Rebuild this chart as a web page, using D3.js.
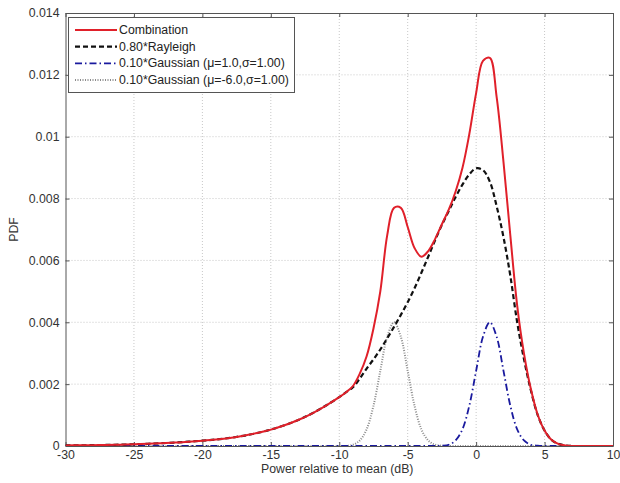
<!DOCTYPE html>
<html><head><meta charset="utf-8">
<script src="https://cdn.jsdelivr.net/npm/d3@7"></script>
<style>
html,body{margin:0;padding:0;background:#fff;}
svg{display:block;font-family:"Liberation Sans",Arial,sans-serif;}
</style></head>
<body><svg id="c" width="620" height="483"></svg>
<script>
// x positions (dB)
const xValues = [-30,-29,-28,-27,-26,-25,-24,-23,-22,-21,-20,-19,-18,-17,-16,-15,-14,-13,-12,-11,
  -10,-9.5,-9,-8.5,-8,-7.5,-7,-6.5,-6,-5.5,-5,-4.5,-4,-3.5,-3,-2.5,-2,-1.5,-1,-0.5,
  0,0.5,1,1.5,2,2.5,3,3.5,4,4.5,5,5.5,6,6.5,7,8,9,10];
const rayleigh = [0.000018,0.000022,0.000028,0.000035,0.000044,0.000055,0.00007,0.00009,0.00011,0.00014,
  0.000172,0.00021,0.00026,0.00033,0.00042,0.00053,0.00067,0.00084,0.00105,0.0013,
  0.00158,0.00174,0.0019,0.00218,0.0025,0.0028,0.00312,0.00348,0.00385,0.00424,0.00465,0.0051,0.0056,0.00612,0.00665,0.00715,0.0076,0.00805,0.00845,0.00878,
  0.00898,0.00892,0.00855,0.00775,0.00675,0.0055,0.004,0.0028,0.0018,0.001,0.0005,0.0002,0.00007,0.00002,0,0,0,0];
const combination = [0.000018,0.000022,0.000028,0.000035,0.000044,0.000055,0.00007,0.00009,0.00011,0.00014,
  0.000172,0.00021,0.00026,0.00033,0.00042,0.00053,0.00067,0.00084,0.00105,0.0013,
  0.00158,0.00174,0.00194,0.00234,0.0029,0.0038,0.0050,0.0068,0.0077,0.0077,0.00708,0.0064,0.00612,0.0063,0.00669,0.00717,0.00764,0.00823,0.00899,0.01008,
  0.01141,0.01245,0.01255,0.01128,0.00918,0.0068,0.00454,0.00298,0.00184,0.00101,0.0005,0.0002,0.00007,0.00002,0,0,0,0];
const gaussMu1 = [0,0,0,0,0,0,0,0,0,0,0,0,0,0,0,0,0,0,0,0,
  0,0,0,0,0,0,0,0,0,0,0,0,0,0,0,0.00001,0.00004,0.00018,0.00054,0.0013,
  0.00243,0.00353,0.004,0.00353,0.00243,0.0013,0.00054,0.00018,0.00004,0.00001,0,0,0,0,0,0,0,0];
const gaussMu6 = [0,0,0,0,0,0,0,0,0,0,0,0,0,0,0,0,0,0,0,0,
  0,0,0.00004,0.00018,0.00054,0.0013,0.00243,0.00353,0.004,0.00353,0.00243,0.0013,0.00054,0.00018,0.00004,0.00001,0,0,0,0,
  0,0,0,0,0,0,0,0,0,0,0,0,0,0,0,0,0,0];
const xTicks = [-30,-25,-20,-15,-10,-5,0,5,10];
const xTickLabels = ["-30","-25","-20","-15","-10","-5","0","5","10"];
const yTicks = [0,0.002,0.004,0.006,0.008,0.01,0.012,0.014];
const yTickLabels = ["0","0.002","0.004","0.006","0.008","0.01","0.012","0.014"];
const legendLabels = ["Combination","0.80*Rayleigh","0.10*Gaussian (\u03bc=1.0,\u03c3=1.00)","0.10*Gaussian (\u03bc=-6.0,\u03c3=1.00)"];

const svg = d3.select("#c");
const L = 65.5, R = 613, T = 13, B = 446;
const FS = "12.3px";
const x = d3.scaleLinear().domain([-30,10]).range([L,R]);
const y = d3.scaleLinear().domain([0,0.014]).range([B,T]);

// grid
const g = svg.append("g");
g.selectAll(".vg").data(xTicks.slice(1,-1)).enter().append("line")
  .attr("x1",d=>x(d)).attr("x2",d=>x(d)).attr("y1",T).attr("y2",B)
  .attr("stroke","#c8c8c8").attr("stroke-width",1).attr("stroke-dasharray","1,2");
g.selectAll(".hg").data(yTicks.slice(1,-1)).enter().append("line")
  .attr("x1",L).attr("x2",R).attr("y1",d=>y(d)).attr("y2",d=>y(d))
  .attr("stroke","#c8c8c8").attr("stroke-width",1).attr("stroke-dasharray","1,2");

// axes
svg.append("g").attr("transform",`translate(0,${B})`)
  .call(d3.axisBottom(x).tickValues(xTicks).tickFormat((d,i)=>xTickLabels[i]).tickSizeInner(-4).tickSizeOuter(0).tickPadding(4));
svg.append("g").attr("transform",`translate(${L},0)`)
  .call(d3.axisLeft(y).tickValues(yTicks).tickFormat((d,i)=>yTickLabels[i]).tickSizeInner(-4).tickSizeOuter(0).tickPadding(6));
svg.append("g").attr("transform",`translate(0,${T})`)
  .call(d3.axisTop(x).tickValues(xTicks).tickSizeInner(-4).tickSizeOuter(0).tickFormat(""));
svg.append("g").attr("transform",`translate(${R},0)`)
  .call(d3.axisRight(y).tickValues(yTicks).tickSizeInner(-4).tickSizeOuter(0).tickFormat(""));
svg.selectAll(".domain").attr("stroke","#555");
svg.selectAll(".tick line").attr("stroke","#555");
svg.selectAll(".tick text").attr("fill","#333").style("font-size",FS).style("font-family","'Liberation Sans',Arial,sans-serif");

// axis titles
svg.append("text").attr("x",(L+R)/2 - 2).attr("y",473).attr("text-anchor","middle")
  .style("font-size",FS).attr("fill","#333").text("Power relative to mean (dB)");
svg.append("text").attr("transform",`translate(18,${(T+B)/2}) rotate(-90)`).attr("text-anchor","middle")
  .style("font-size",FS).attr("fill","#333").text("PDF");

// lines
const line = d3.line().x((d,i)=>x(xValues[i])).y(d=>y(d)).curve(d3.curveCatmullRom.alpha(0.5));
svg.append("clipPath").attr("id","cp").append("rect").attr("x",L).attr("y",T).attr("width",R-L).attr("height",B-T);
const plot = svg.append("g").attr("clip-path","url(#cp)");
const series = [
  {v: gaussMu6, color:"#8a8a8a", w:2, dash:"1,1.5"},
  {v: gaussMu1, color:"#1a1a9e", w:1.8, dash:"7,3,1.5,3"},
  {v: rayleigh, color:"#111", w:2.2, dash:"5,3"},
  {v: combination, color:"#e0202a", w:2, dash:null}
];
series.forEach(s=>{
  plot.append("path").attr("d",line(s.v)).attr("fill","none").attr("stroke",s.color)
    .attr("stroke-width",s.w).attr("stroke-dasharray",s.dash);
});

// legend
const lg = svg.append("g");
lg.append("rect").attr("x",68.5).attr("y",17.5).attr("width",226).attr("height",75)
  .attr("fill","#fff").attr("stroke","#555").attr("stroke-width",1);
const legendStyles = [series[3],series[2],series[1],series[0]];
legendLabels.forEach((t,i)=>{
  const yy = 30 + i*16.7;
  lg.append("line").attr("x1",75).attr("x2",117).attr("y1",yy).attr("y2",yy)
    .attr("stroke",legendStyles[i].color).attr("stroke-width",legendStyles[i].w)
    .attr("stroke-dasharray",legendStyles[i].dash);
  lg.append("text").attr("x",119).attr("y",yy+4).style("font-size",FS).attr("fill","#222").text(t);
});
</script></body></html>
